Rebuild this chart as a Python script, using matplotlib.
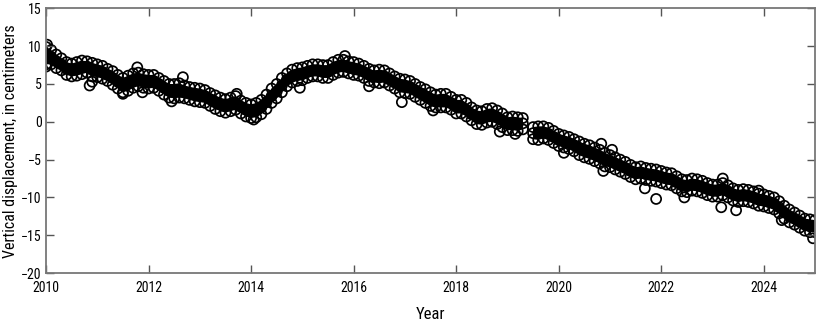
import numpy as np
import matplotlib
matplotlib.use('agg')
import matplotlib.pyplot as plt
from matplotlib import font_manager

# the reference uses a condensed face; take a narrow one if installed
names = {f.name for f in font_manager.fontManager.ttflist}
narrow = [n for n in ['Liberation Sans Narrow', 'Roboto Condensed', 'Open Sans Condensed',
                      'Noto Sans Condensed', 'DejaVu Sans Condensed'] if n in names]
plt.rcParams['font.family'] = narrow + ['DejaVu Sans']
plt.rcParams['font.stretch'] = 'condensed'

nan = np.nan

# sample dates, every 0.1 year from 2010 to 2025
years = np.round(np.arange(2010.0, 2025.05, 0.1), 1)

# middle of the band (cm)
disp_mid = [8.8, 8.6, 8.0, 7.6, 7.0, 6.9, 7.0, 7.2, 7.3, 6.9,
            6.8, 6.6, 6.2, 5.8, 5.3, 4.8, 5.0, 5.4, 5.6, 5.4,
            5.3, 5.4, 5.0, 4.5, 4.1, 4.0, 4.1, 4.0, 3.8, 3.6,
            3.5, 3.4, 3.0, 2.6, 2.3, 2.1, 2.3, 2.5, 2.0, 1.6,
            1.4, 1.5, 1.9, 2.6, 3.4, 4.0, 4.8, 5.6, 6.0, 6.2,
            6.3, 6.6, 6.8, 6.8, 6.6, 6.6, 7.0, 7.3, 7.4, 7.2,
            7.0, 6.9, 6.6, 6.2, 6.0, 6.0, 6.0, 5.6, 5.2, 4.8,
            4.7, 4.6, 4.2, 3.8, 3.4, 3.0, 2.7, 2.8, 2.8, 2.5,
            2.0, 2.0, 1.6, 1.0, 0.6, 0.5, 0.8, 0.9, 0.6, 0.2,
            -0.3, -0.2, -0.3, -0.2, nan, -1.5, -1.5, -1.4, -1.6, -2.0,
            -2.4, -2.6, -2.8, -3.1, -3.5, -3.8, -4.0, -4.3, -4.6, -5.0,
            -5.2, -5.5, -5.8, -6.1, -6.5, -6.8, -6.7, -6.9, -7.0, -7.1,
            -7.3, -7.5, -7.6, -8.0, -8.4, -8.5, -8.3, -8.4, -8.6, -8.9,
            -9.1, -9.1, -8.9, -9.2, -9.6, -9.8, -9.7, -9.8, -10.0, -10.3,
            -10.4, -10.6, -10.8, -11.3, -12.0, -12.5, -12.8, -13.2, -13.6, -13.8,
            -13.8]

# upper edge of the band
disp_hi = [9.9, 9.5, 8.9, 8.4, 7.9, 7.7, 7.9, 8.1, 8.0, 7.8,
           7.6, 7.4, 7.0, 6.7, 6.2, 5.8, 6.1, 6.4, 6.5, 6.3,
           6.2, 6.2, 5.8, 5.4, 5.0, 5.0, 5.1, 4.8, 4.6, 4.5,
           4.4, 4.2, 3.8, 3.5, 3.2, 3.0, 3.2, 3.4, 2.8, 2.5,
           2.3, 2.5, 2.9, 3.6, 4.4, 5.0, 5.8, 6.4, 6.9, 7.1,
           7.2, 7.4, 7.6, 7.6, 7.5, 7.5, 7.9, 8.2, 8.2, 8.0,
           7.9, 7.7, 7.4, 7.0, 6.8, 6.9, 6.8, 6.4, 6.0, 5.7,
           5.6, 5.4, 5.0, 4.6, 4.3, 3.9, 3.6, 3.7, 3.7, 3.3,
           2.9, 2.9, 2.5, 1.9, 1.5, 1.4, 1.7, 1.8, 1.5, 1.1,
           0.6, 0.7, 0.6, 0.5, nan, -0.7, -0.6, -0.6, -0.8, -1.2,
           -1.6, -1.8, -2.0, -2.3, -2.6, -2.9, -3.1, -3.4, -3.7, -4.1,
           -4.4, -4.7, -5.0, -5.3, -5.7, -6.0, -5.9, -6.1, -6.2, -6.3,
           -6.5, -6.7, -6.8, -7.2, -7.6, -7.7, -7.5, -7.6, -7.8, -8.1,
           -8.3, -8.3, -8.1, -8.4, -8.8, -9.0, -8.9, -9.0, -9.2, -9.5,
           -9.6, -9.8, -10.0, -10.5, -11.1, -11.6, -12.0, -12.4, -12.8, -12.9,
           -13.0]

# lower edge of the band
disp_lo = [7.6, 7.6, 7.1, 6.8, 6.2, 6.0, 6.1, 6.3, 6.5, 6.0,
           5.9, 5.7, 5.4, 4.9, 4.4, 3.9, 4.1, 4.5, 4.7, 4.5,
           4.4, 4.5, 4.1, 3.6, 3.2, 3.1, 3.2, 3.1, 2.9, 2.7,
           2.6, 2.5, 2.1, 1.7, 1.4, 1.2, 1.4, 1.6, 1.1, 0.7,
           0.5, 0.6, 1.0, 1.7, 2.5, 3.1, 3.9, 4.7, 5.2, 5.4,
           5.5, 5.8, 6.0, 6.0, 5.8, 5.8, 6.2, 6.5, 6.6, 6.4,
           6.2, 6.1, 5.8, 5.4, 5.2, 5.1, 5.2, 4.8, 4.4, 3.9,
           3.8, 3.7, 3.3, 2.9, 2.5, 2.1, 1.9, 1.9, 1.9, 1.6,
           1.1, 1.1, 0.7, 0.2, -0.3, -0.4, -0.1, 0.0, -0.3, -0.7,
           -1.1, -1.1, -1.2, -1.0, nan, -2.3, -2.4, -2.2, -2.4, -2.8,
           -3.2, -3.4, -3.6, -3.9, -4.4, -4.7, -4.9, -5.2, -5.5, -5.9,
           -6.0, -6.3, -6.6, -6.9, -7.3, -7.6, -7.5, -7.7, -7.8, -7.9,
           -8.1, -8.3, -8.4, -8.8, -9.2, -9.3, -9.1, -9.2, -9.4, -9.7,
           -9.9, -9.9, -9.7, -10.0, -10.4, -10.6, -10.5, -10.6, -10.8, -11.1,
           -11.2, -11.4, -11.6, -12.1, -12.8, -13.3, -13.6, -14.0, -14.4, -14.6,
           -14.6]

# scattered points outside the main band
out_year = [2010.0, 2010.02, 2010.85, 2010.9, 2011.5, 2011.78, 2011.88, 2012.67,
            2013.72, 2014.05, 2014.95, 2015.83, 2016.94, 2020.1, 2020.83, 2020.87,
            2021.04, 2021.68, 2021.9, 2023.17, 2023.2, 2023.46, 2023.9, 2024.96,
            2012.45, 2016.3, 2017.55, 2018.85, 2019.15, 2022.45, 2024.35]
out_val = [7.3, 10.2, 4.8, 5.3, 3.7, 7.2, 3.9, 5.9,
           3.7, 0.3, 4.5, 8.7, 2.6, -4.1, -2.9, -6.5,
           -3.7, -8.8, -10.2, -11.3, -7.5, -11.7, -9.1, -15.4,
           2.7, 4.7, 1.5, -1.3, -1.6, -10.0, -13.0]

fig = plt.figure(figsize=(8.19, 3.22), dpi=100)
ax = fig.add_axes([0.0562, 0.152, 0.939, 0.822])

# overlapping circles make the band solid black in the middle
ax.fill_between(years, disp_lo, disp_hi, color='black', linewidth=0)
mk = dict(s=52, facecolors='none', edgecolors='black', linewidths=1.25)
for vals in (disp_hi, disp_lo, disp_mid):
    ax.scatter(years, vals, **mk)
ax.scatter(out_year, out_val, **mk)

ax.set_xlim(2010, 2025)
ax.set_ylim(-20, 15)
ax.set_xticks(range(2010, 2025, 2))
ax.set_yticks(range(-20, 16, 5))
ax.set_xticklabels([str(y) for y in range(2010, 2025, 2)])
ax.set_yticklabels(['\u221220', '\u221215', '\u221210', '\u22125', '0', '5', '10', '15'])

for sp in ax.spines.values():
    sp.set_color('#777777')
    sp.set_linewidth(1.3)
ax.tick_params(direction='in', length=6, width=1.0, color='#555555',
               top=True, right=True, labelsize=10)
ax.tick_params(axis='x', pad=6)
ax.tick_params(axis='y', pad=3)

ax.set_xlabel('Year', fontsize=12, labelpad=8)
ax.set_ylabel('Vertical displacement, in centimeters', fontsize=11.5, labelpad=2)

fig.savefig('out.png', dpi=100)
